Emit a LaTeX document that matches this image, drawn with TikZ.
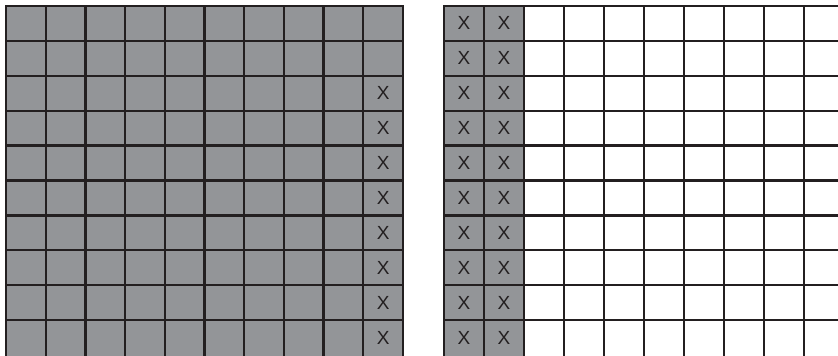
\documentclass[tikz,border=0pt]{standalone}
\usepackage{fontspec}
\setmainfont{Liberation Sans}
\definecolor{cellgray}{HTML}{939598}
\definecolor{gridblack}{HTML}{231F20}

\begin{document}
\begin{tikzpicture}[x=1pt,y=-1pt,
    every node/.style={font=\fontsize{19}{19}\selectfont,text=gridblack},
    gridline/.style={draw=gridblack,line width=2.3pt},
    cellfill/.style={fill=cellgray}]
  \useasboundingbox (0,0) rectangle (838,356);
  \clip (0,0) rectangle (838,356);
  % left board: all cells filled
  \fill[cellfill] (6,6) rectangle (403,356);
  \foreach \i in {0,...,10}
    \draw[gridline] (6+39.7*\i,6) -- (6+39.7*\i,357);
  \foreach \j in {0,...,9}
    \draw[gridline] (5,6+34.9*\j) -- (404,6+34.9*\j);
  \foreach \j in {3,...,10}
    \node (lx\j) at (6+39.7*9.5,6+34.9*\j-17.45) {X};
  % right board: first two columns filled
  \fill[cellfill] (444,6) rectangle (524,356);
  \foreach \i in {0,...,9}
    \draw[gridline] (444+40*\i,6) -- (444+40*\i,357);
  \foreach \j in {0,...,9}
    \draw[gridline] (443,6+34.9*\j) -- (840,6+34.9*\j);
  \foreach \j in {1,...,10} {
    \node (ra\j) at (464,6+34.9*\j-17.45) {X};
    \node (rb\j) at (504,6+34.9*\j-17.45) {X};
  }
\end{tikzpicture}
\end{document}
